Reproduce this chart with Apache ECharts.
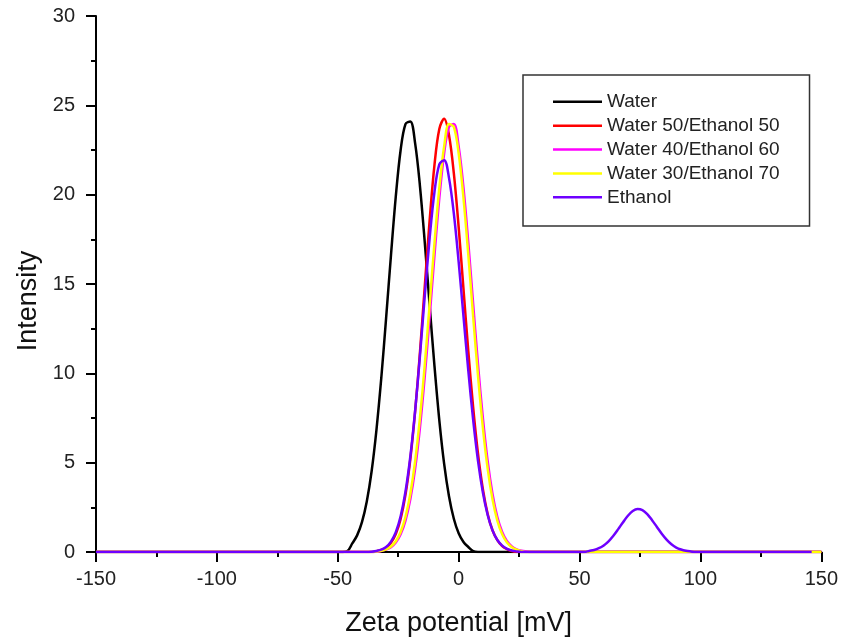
<!DOCTYPE html>
<html>
<head>
<meta charset="utf-8">
<script src="https://cdn.jsdelivr.net/npm/echarts@6/dist/echarts.min.js"></script>
<style>
  html, body { margin: 0; padding: 0; background: #fff; }
  #chart { width: 841px; height: 642px; }
</style>
</head>
<body>
<div id="chart"></div>
<script>
// Zeta potential distributions: [zeta potential (mV), intensity]
const water = [[-150,0],[-48,0],[-46,0.05],[-44,0.48],[-42,0.93],[-40,1.67],[-38,2.83],[-36,4.52],[-34,6.84],[-32,9.74],[-30,13.1],[-28,16.6],[-26,19.9],[-24,22.5],[-22,23.95],[-20,24.09],[-18,22.87],[-16,20.47],[-14,17.3],[-12,13.8],[-10,10.4],[-8,7.37],[-6,4.93],[-4,3.12],[-2,1.86],[0,1.05],[2,0.56],[4,0.28],[6,0.05],[8,0],[150,0]];

const water50 = [[-150,0],[-36,0],[-34,0.04],[-32,0.11],[-30,0.24],[-28,0.51],[-26,1.0],[-24,1.85],[-22,3.2],[-20,5.19],[-18,7.87],[-16,11.19],[-14,14.9],[-12,18.57],[-10,21.67],[-8,23.68],[-6,24.25],[-4,23.34],[-2,21.2],[0,18.18],[2,14.71],[4,11.23],[6,8.09],[8,5.5],[10,3.53],[12,2.13],[14,1.22],[16,0.66],[18,0.33],[20,0.16],[22,0.05],[24,0],[150,0]];

const water40 = [[-150,0],[-36,0],[-34,0.02],[-32,0.06],[-30,0.13],[-28,0.27],[-26,0.53],[-24,0.99],[-22,1.76],[-20,2.95],[-18,4.67],[-16,6.98],[-14,9.87],[-12,13.17],[-10,16.62],[-8,19.81],[-6,22.32],[-4,23.8],[-2,23.95],[0,22.7],[2,20.38],[4,17.29],[6,13.87],[8,10.5],[10,7.52],[12,5.08],[14,3.25],[16,1.96],[18,1.12],[20,0.6],[22,0.31],[24,0.15],[26,0.07],[28,0.03],[30,0],[150,0]];

const water30 = [[-150,0],[-36,0],[-34,0.03],[-32,0.07],[-30,0.15],[-28,0.31],[-26,0.6],[-24,1.12],[-22,1.96],[-20,3.25],[-18,5.08],[-16,7.52],[-14,10.5],[-12,13.87],[-10,17.29],[-8,20.38],[-6,22.7],[-4,23.95],[-2,23.8],[0,22.32],[2,19.81],[4,16.62],[6,13.17],[8,9.87],[10,6.98],[12,4.67],[14,2.95],[16,1.76],[18,0.99],[20,0.53],[22,0.27],[24,0.13],[26,0.05],[28,0],[150,0]];

const ethanol = [[-150,0],[-38,0],[-36,0.02],[-34,0.06],[-32,0.13],[-30,0.28],[-28,0.58],[-26,1.11],[-24,2.0],[-22,3.37],[-20,5.33],[-18,7.91],[-16,11.0],[-14,14.36],[-12,17.57],[-10,20.16],[-8,21.7],[-6,21.93],[-4,20.94],[-2,18.95],[0,16.24],[2,13.19],[4,10.14],[6,7.39],[8,5.1],[10,3.34],[12,2.07],[14,1.21],[16,0.67],[18,0.36],[20,0.18],[22,0.08],[24,0.03],[26,0],[52,0],[54,0.06],[56,0.11],[58,0.21],[60,0.37],[62,0.6],[64,0.91],[66,1.28],[68,1.67],[70,2.03],[72,2.29],[74,2.4],[76,2.34],[78,2.12],[80,1.78],[82,1.4],[84,1.02],[86,0.69],[88,0.43],[90,0.25],[92,0.14],[94,0.07],[96,0.03],[98,0],[146,0]];

const seriesNames = ['Water', 'Water 50/Ethanol 50', 'Water 40/Ethanol 60', 'Water 30/Ethanol 70', 'Ethanol'];
const seriesData = [water, water50, water40, water30, ethanol];
const seriesColors = ['#000000', '#ff0000', '#ff00ff', '#ffff00', '#6e00ff'];

const xRange = [-150, 150];
const xStep = 50;
const yRange = [0, 30];
const yStep = 5;

const FONT = '"Liberation Sans", Arial, sans-serif';

const chart = echarts.init(document.getElementById('chart'), null, { renderer: 'canvas' });

const axisCommon = {
  splitLine: { show: false },
  axisLine: { show: true, onZero: false, lineStyle: { color: '#000', width: 2 } },
  axisTick: { show: true, inside: false, length: 10, lineStyle: { color: '#000', width: 2 } },
  minorTick: { show: true, splitNumber: 2, length: 5, lineStyle: { color: '#000', width: 2 } },
  minorSplitLine: { show: false },
  axisLabel: { fontSize: 20, color: '#222', fontFamily: FONT },
  nameLocation: 'middle'
};

chart.setOption({
  animation: false,
  backgroundColor: '#ffffff',
  grid: { left: 96, right: 19, top: 16, bottom: 89, containLabel: false },
  xAxis: Object.assign({}, axisCommon, {
    type: 'value',
    min: xRange[0], max: xRange[1], interval: xStep,
    name: 'Zeta potential [mV]',
    nameGap: 58,
    nameTextStyle: { color: '#111', fontFamily: FONT, fontSize: 27 },
    axisLabel: Object.assign({}, axisCommon.axisLabel, { margin: 17 })
  }),
  yAxis: Object.assign({}, axisCommon, {
    type: 'value',
    min: yRange[0], max: yRange[1], interval: yStep,
    name: 'Intensity',
    nameGap: 54,
    nameTextStyle: { color: '#111', fontFamily: FONT, fontSize: 27, padding: [0, 34, 0, 0] },
    axisLabel: Object.assign({}, axisCommon.axisLabel, { margin: 21 })
  }),
  legend: {
    orient: 'vertical',
    left: 523,
    top: 75,
    padding: [17, 30, 19, 30],
    borderColor: '#333',
    borderWidth: 1.5,
    backgroundColor: '#fff',
    icon: 'rect',
    itemWidth: 49,
    itemHeight: 2.5,
    itemGap: 4.4,
    textStyle: { fontSize: 19, lineHeight: 19.5, color: '#222', fontFamily: FONT },
    data: seriesNames
  },
  series: seriesNames.map((name, i) => ({
    name: name,
    type: 'line',
    data: seriesData[i],
    symbol: 'none',
    smooth: 0.35,
    color: seriesColors[i],
    lineStyle: { color: seriesColors[i], width: 2.5 },
    z: 2 + i
  }))
});
</script>
</body>
</html>
